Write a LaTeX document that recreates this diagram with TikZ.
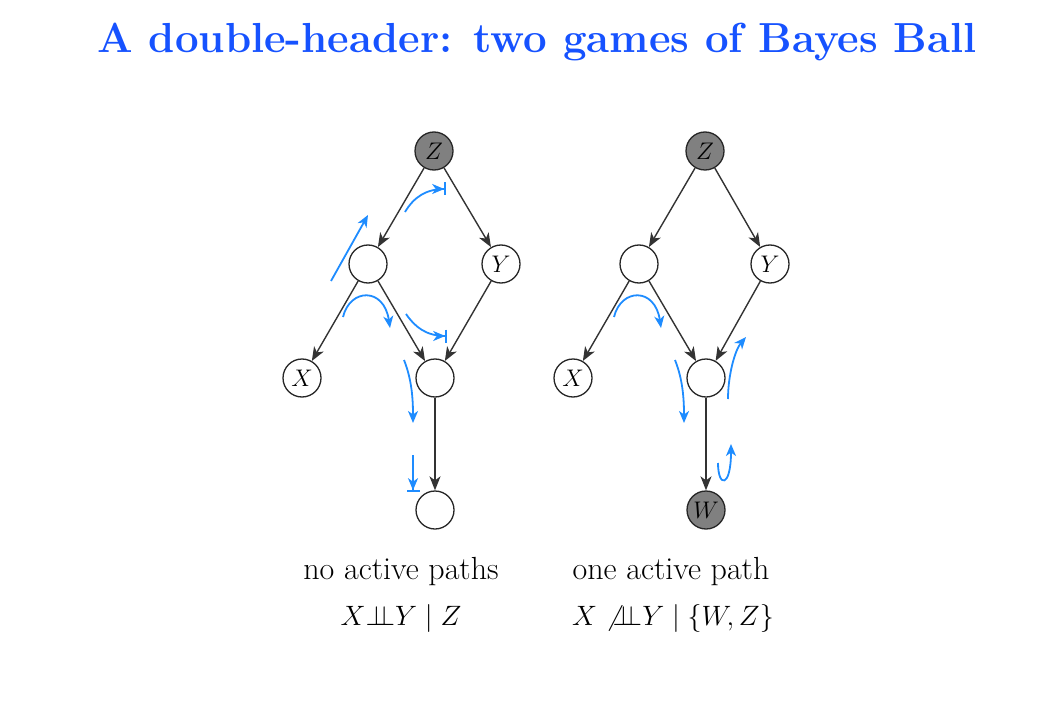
\RequirePackage{fix-cm}
\documentclass[tikz,border=0pt]{standalone}
\usetikzlibrary{arrows.meta}
\definecolor{titleblue}{RGB}{22,82,255}
\definecolor{ballblue}{RGB}{30,140,255}
\definecolor{obsgray}{RGB}{128,128,128}
\newcommand{\myindep}{{\perp\!\!\!\perp}}
\begin{document}
\begin{tikzpicture}[x=1pt,y=-1pt,
  var/.style={circle,draw=black!85,line width=1.3pt,minimum size=38pt,inner sep=0pt,font=\fontsize{24}{24}\selectfont},
  obs/.style={var,fill=obsgray},
  edge/.style={-{Stealth[length=14pt,width=11pt,inset=4pt]},line width=1.4pt,black!80},
  ball/.style={-{Stealth[length=12pt,width=10pt,inset=3.5pt]},line width=1.8pt,ballblue},
  blocked/.style={-{Stealth[length=12pt,width=10pt,inset=3.5pt]Bar[width=13pt,line width=1.8pt]},line width=1.8pt,ballblue},
  caption/.style={font=\fontsize{32}{33}\selectfont},
  formula/.style={font=\fontsize{28}{29}\selectfont}]
\useasboundingbox (0,0) rectangle (1064,703);
\node[text=titleblue,font=\fontsize{42}{43}\selectfont\bfseries] (title) at (537,42) {A double-header: two games of Bayes Ball};
% left graph
\node[obs] (Z1) at (434,151) {$Z$};
\node[var] (A1) at (368,264) {};
\node[var] (Y1) at (501,264) {$Y$};
\node[var] (X1) at (302,378) {$X$};
\node[var] (C1) at (435,378) {};
\node[var] (D1) at (435,510) {};
\draw[edge] (Z1) -- (A1);
\draw[edge] (Z1) -- (Y1);
\draw[edge] (A1) -- (X1);
\draw[edge] (A1) -- (C1);
\draw[edge] (Y1) -- (C1);
\draw[edge] (C1) -- (D1);
% right graph
\node[obs] (Z2) at (705,151) {$Z$};
\node[var] (A2) at (639,264) {};
\node[var] (Y2) at (770,264) {$Y$};
\node[var] (X2) at (573,378) {$X$};
\node[var] (C2) at (706,378) {};
\node[obs] (W2) at (706,510) {$W$};
\draw[edge] (Z2) -- (A2);
\draw[edge] (Z2) -- (Y2);
\draw[edge] (A2) -- (X2);
\draw[edge] (A2) -- (C2);
\draw[edge] (Y2) -- (C2);
\draw[edge] (C2) -- (W2);
% ball paths, left
\coordinate (l1s) at (331,281); \coordinate (l1e) at (368,215);
\draw[ball] (l1s) -- (l1e);
\coordinate (l2s) at (405,212); \coordinate (l2e) at (446,189);
\draw[blocked] (l2s) .. controls (414,197) and (426,189) .. (l2e);
\coordinate (l3s) at (343,317); \coordinate (l3e) at (390,328);
\draw[ball] (l3s) .. controls (350,288) and (384,287) .. (l3e);
\coordinate (l4s) at (406,314); \coordinate (l4e) at (447,336);
\draw[blocked] (l4s) .. controls (415,327) and (426,336) .. (l4e);
\coordinate (l5s) at (404,360); \coordinate (l5e) at (413,423);
\draw[ball] (l5s) .. controls (412,380) and (413,400) .. (l5e);
\coordinate (l6s) at (413,455); \coordinate (l6e) at (413,492);
\draw[blocked] (l6s) -- (l6e);
% ball paths, right
\coordinate (r1s) at (614,317); \coordinate (r1e) at (661,328);
\draw[ball] (r1s) .. controls (621,288) and (655,287) .. (r1e);
\coordinate (r2s) at (675,360); \coordinate (r2e) at (684,423);
\draw[ball] (r2s) .. controls (683,380) and (684,400) .. (r2e);
\coordinate (r3s) at (728,399); \coordinate (r3e) at (746,337);
\draw[ball] (r3s) .. controls (728,375) and (735,350) .. (r3e);
\coordinate (r4s) at (718,463); \coordinate (r4e) at (731,444);
\draw[ball] (r4s) .. controls (718,488) and (731,488) .. (r4e);
% captions
\node[caption] (cap1) at (401,572) {no active paths};
\node[caption] (cap2) at (671,572) {one active path};
\node[formula] (eq1) at (401,618) {$X \myindep Y \mid Z$};
\node[formula] (eq2) at (673,618) {$X \not\myindep Y \mid \{W, Z\}$};
\end{tikzpicture}
\end{document}
